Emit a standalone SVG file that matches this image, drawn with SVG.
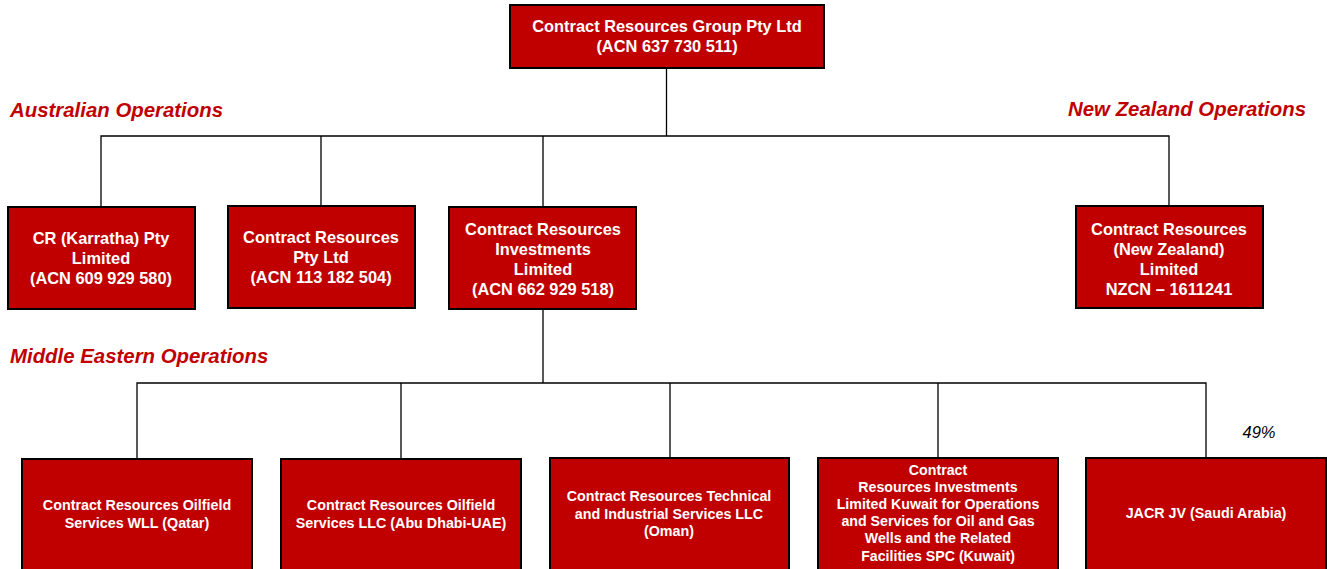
<svg xmlns="http://www.w3.org/2000/svg" width="1327" height="569" viewBox="0 0 1327 569">
<style>
.box{fill:#c00000;stroke:#000;stroke-width:2}
.t{font-family:"Liberation Sans",Arial,sans-serif;font-weight:bold;fill:#fff;text-anchor:middle}
.t15{font-size:16.4px}
.t13{font-size:14.3px}
.t12{font-size:14.2px}
.sec{font-family:"Liberation Sans",Arial,sans-serif;font-weight:bold;font-style:italic;font-size:20.4px;fill:#c00000}
.conn{fill:none;stroke:#000;stroke-width:1.3}
</style>
<rect width="1327" height="569" fill="#fff"/>
<g id="connectors">
<path class="conn" d="M666.5,68 V136 M101,206 V136 H1169 V206 M321,136 V206 M543,136 V206"/>
<path class="conn" d="M543,309 V383 M137,459 V383 H1206 V458 M401,383 V459 M670,383 V458 M938,383 V458"/>
</g>
<g id="labels">
<text class="sec" x="10" y="117">Australian Operations</text>
<text class="sec" x="1306" y="116" text-anchor="end">New Zealand Operations</text>
<text class="sec" x="10" y="363">Middle Eastern Operations</text>
<text x="1259" y="438" font-family="Liberation Sans,Arial,sans-serif" font-style="italic" font-size="16.5" fill="#000" text-anchor="middle">49%</text>
</g>
<g id="n-group">
<rect class="box" x="510" y="5" width="314" height="63"/>
<text class="t t15" x="667" y="32">Contract Resources Group Pty Ltd</text>
<text class="t t15" x="667" y="52">(ACN 637 730 511)</text>
</g>
<g id="n-karratha">
<rect class="box" x="8" y="207" width="187" height="102"/>
<text class="t t15" x="101" y="244">CR (Karratha) Pty</text>
<text class="t t15" x="101" y="264">Limited</text>
<text class="t t15" x="101" y="284">(ACN 609 929 580)</text>
</g>
<g id="n-crpl">
<rect class="box" x="228" y="206" width="187" height="102"/>
<text class="t t15" x="321" y="243">Contract Resources</text>
<text class="t t15" x="321" y="263">Pty Ltd</text>
<text class="t t15" x="321" y="283">(ACN 113 182 504)</text>
</g>
<g id="n-cri">
<rect class="box" x="449" y="207" width="187" height="102"/>
<text class="t t15" x="543" y="235">Contract Resources</text>
<text class="t t15" x="543" y="255">Investments</text>
<text class="t t15" x="543" y="275">Limited</text>
<text class="t t15" x="543" y="295">(ACN 662 929 518)</text>
</g>
<g id="n-nz">
<rect class="box" x="1076" y="206" width="187" height="102"/>
<text class="t t15" x="1169" y="235">Contract Resources</text>
<text class="t t15" x="1169" y="255">(New Zealand)</text>
<text class="t t15" x="1169" y="275">Limited</text>
<text class="t t15" x="1169" y="295">NZCN – 1611241</text>
</g>
<g id="n-qatar">
<rect class="box" x="22" y="459" width="230" height="120"/>
<text class="t t13" x="137" y="510">Contract Resources Oilfield</text>
<text class="t t13" x="137" y="528">Services WLL (Qatar)</text>
</g>
<g id="n-uae">
<rect class="box" x="281" y="459" width="240" height="120"/>
<text class="t t13" x="401" y="510">Contract Resources Oilfield</text>
<text class="t t13" x="401" y="528">Services LLC (Abu Dhabi-UAE)</text>
</g>
<g id="n-oman">
<rect class="box" x="550" y="458" width="239" height="120"/>
<text class="t t13" x="669" y="501">Contract Resources Technical</text>
<text class="t t13" x="669" y="519">and Industrial Services LLC</text>
<text class="t t13" x="669" y="536">(Oman)</text>
</g>
<g id="n-kuwait">
<rect class="box" x="818" y="458" width="240" height="120"/>
<text class="t t12" x="938" y="475">Contract</text>
<text class="t t12" x="938" y="492">Resources Investments</text>
<text class="t t12" x="938" y="509">Limited Kuwait for Operations</text>
<text class="t t12" x="938" y="526">and Services for Oil and Gas</text>
<text class="t t12" x="938" y="543">Wells and the Related</text>
<text class="t t12" x="938" y="561">Facilities SPC (Kuwait)</text>
</g>
<g id="n-jacr">
<rect class="box" x="1086" y="458" width="240" height="120"/>
<text class="t t13" x="1206" y="518">JACR JV (Saudi Arabia)</text>
</g>
</svg>
